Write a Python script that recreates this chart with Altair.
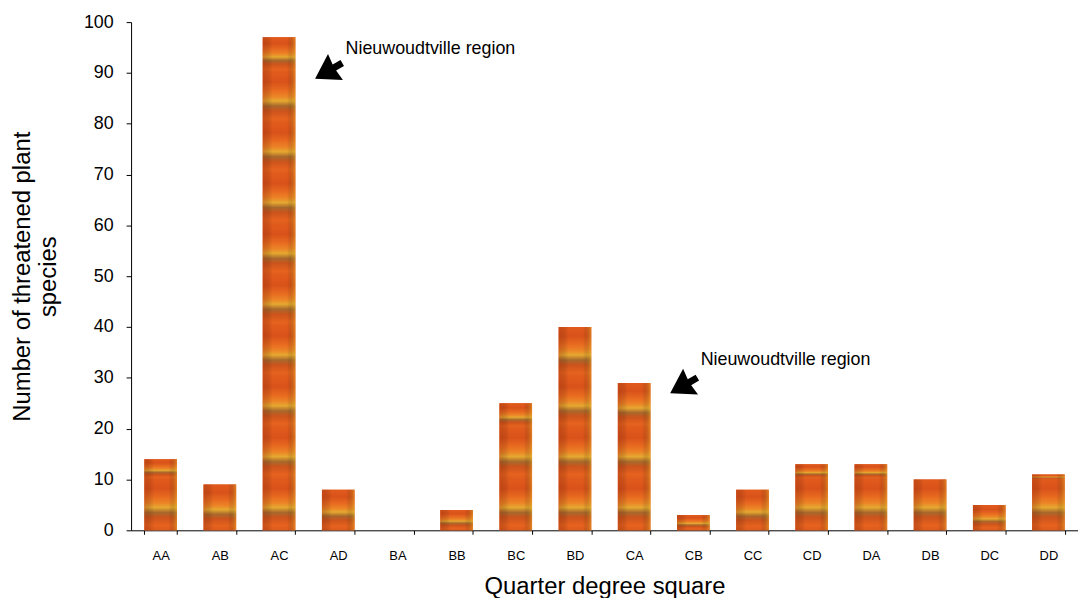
import altair as alt
import pandas as pd

# ---- data ----
categories = ["AA", "AB", "AC", "AD", "BA", "BB", "BC", "BD",
              "CA", "CB", "CC", "CD", "DA", "DB", "DC", "DD"]
counts = [14, 9, 97, 8, 0, 4, 25, 40, 29, 3, 8, 13, 13, 10, 5, 11]

annot_cats = ["AC", "CA"]
annot_text_y = [94.7, 33.6]
annot_arrow_y = [90.4, 28.5]
annot_label = "Nieuwoudtville region"

tile_step = 10  # the picture fill repeats every 10 species

FONT = "Liberation Sans"

df = pd.DataFrame({"square": categories, "count": counts})

# picture tiles stacked inside each bar (derived from the counts)
tiles = []
for c, v in zip(categories, counts):
    k = 0
    while k * tile_step < v:
        tiles.append({"square": c, "y0": k * tile_step,
                      "y1": min(k * tile_step + tile_step, v)})
        k += 1
tiles_df = pd.DataFrame(tiles)

ann_df = pd.DataFrame({"square": annot_cats, "ty": annot_text_y,
                       "ay": annot_arrow_y, "label": [annot_label] * 2})

x_scale = alt.Scale(domain=categories, paddingInner=0.45, paddingOuter=0.225)
y_scale = alt.Scale(domain=[0, 100], nice=False)

x_enc = alt.X("square:N", scale=x_scale, sort=categories,
              axis=alt.Axis(title="Quarter degree square", labelAngle=0,
                            tickBand="extent", tickSize=4, labelPadding=15,
                            labelFontSize=13, titleFontSize=24,
                            titlePadding=13, domainColor="#000000",
                            tickColor="#000000", labelColor="#000000",
                            titleColor="#000000", titleFontWeight="normal",
                            labelFont=FONT, titleFont=FONT, grid=False))
y_enc = alt.Y("count:Q", scale=y_scale,
              axis=alt.Axis(title=["Number of threatened plant", "species"],
                            values=list(range(0, 101, 10)), grid=False,
                            tickSize=5, labelPadding=13, labelFontSize=18,
                            titleFontSize=24, titleLineHeight=26,
                            titlePadding=23, domainColor="#000000",
                            tickColor="#000000", labelColor="#000000",
                            titleColor="#000000", titleFontWeight="normal",
                            labelFont=FONT, titleFont=FONT))

x_plain = alt.X("square:N", scale=x_scale, sort=categories)

base = alt.Chart(df).mark_bar(color="#E0581C").encode(x=x_enc, y=y_enc)

flower_grad = alt.LinearGradient(
    gradient="linear", x1=0, x2=0, y1=0, y2=1,
    stops=[
        alt.GradientStop(color="#E25A1C", offset=0),
        alt.GradientStop(color="#D8521A", offset=0.18),
        alt.GradientStop(color="#E86A20", offset=0.34),
        alt.GradientStop(color="#EC8426", offset=0.46),
        alt.GradientStop(color="#E6A830", offset=0.55),
        alt.GradientStop(color="#A8682C", offset=0.65),
        alt.GradientStop(color="#CC541C", offset=0.75),
        alt.GradientStop(color="#E6621E", offset=0.9),
        alt.GradientStop(color="#DE5A1C", offset=1),
    ])
side_grad = alt.LinearGradient(
    gradient="linear", x1=0, x2=1, y1=0, y2=0,
    stops=[
        alt.GradientStop(color="rgba(150,40,10,0.30)", offset=0),
        alt.GradientStop(color="rgba(0,0,0,0)", offset=0.3),
        alt.GradientStop(color="rgba(0,0,0,0)", offset=0.75),
        alt.GradientStop(color="rgba(240,190,40,0.40)", offset=1),
    ])

tiles_layer = alt.Chart(tiles_df).mark_bar(color=flower_grad).encode(
    x=x_plain, y=alt.Y("y0:Q", scale=y_scale), y2="y1:Q")
side_layer = alt.Chart(tiles_df).mark_bar(color=side_grad).encode(
    x=x_plain, y=alt.Y("y0:Q", scale=y_scale), y2="y1:Q")

arrow_path = ("M -1 0 L 0.5 -0.95 L 0.42 -0.22 L 1 -0.22 "
              "L 1 0.22 L 0.42 0.22 L 0.5 0.95 Z")
arrows = alt.Chart(ann_df).mark_point(
    shape=arrow_path, filled=True, color="#000000", opacity=1,
    size=1000, angle=330, xOffset=50).encode(
    x=x_plain, y=alt.Y("ay:Q", scale=y_scale))

texts = alt.Chart(ann_df).mark_text(
    align="left", baseline="middle", dx=67, font=FONT, fontSize=18,
    color="#000000").encode(
    x=x_plain, y=alt.Y("ty:Q", scale=y_scale), text="label:N")

chart = alt.layer(base, tiles_layer, side_layer, arrows, texts).properties(
    width=954, height=512,
    background="#ffffff",
    autosize=alt.AutoSizeParams(type="none"),
    padding={"left": 124, "top": 12, "right": 0, "bottom": 66},
).configure_view(strokeWidth=0, strokeOpacity=0).configure_axis(grid=False)

chart.save("out.html", embed_options={"renderer": "svg", "actions": False})
